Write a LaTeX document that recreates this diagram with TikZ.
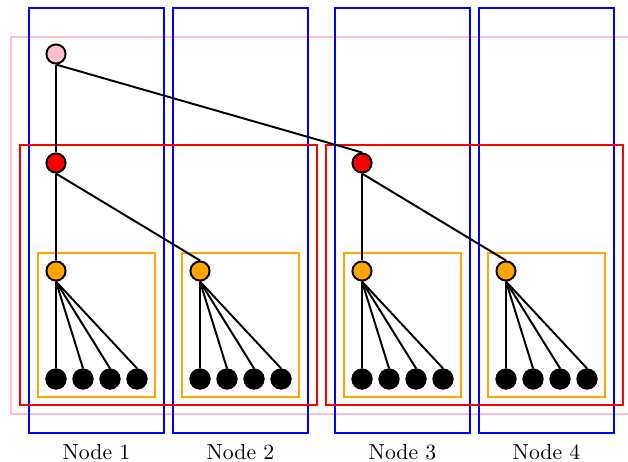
\documentclass[tikz,border=0pt]{standalone}
\begin{document}
\begin{tikzpicture}[x=0.46pt,y=-0.46pt,
  boxline/.style={line width=1pt},
  inner/.style={circle,draw=black,line width=0.9pt,minimum size=8.8pt,inner sep=0pt},
  leaf/.style={circle,fill=black,draw=black,minimum size=9.4pt,inner sep=0pt},
  edge/.style={draw=black,line width=0.9pt},
  lbl/.style={font=\normalsize}]
\definecolor{lorange}{RGB}{255,165,0}
\definecolor{lpink}{RGB}{255,192,203}
\useasboundingbox (0,0) rectangle (628,461);
\begin{scope}
\clip (0,0) rectangle (628,461);
\draw[boxline,lpink] (11,37) rectangle (640,414);
\end{scope}
% blue
\draw[boxline,blue] (29,8) rectangle (164,433);
\draw[boxline,blue] (173,8) rectangle (308,433);
\draw[boxline,blue] (335,8) rectangle (470,433);
\draw[boxline,blue] (479,8) rectangle (614,433);
% red
\draw[boxline,red] (20,145) rectangle (317,405);
\draw[boxline,red] (326,145) rectangle (623,405);
% orange
\foreach \x in {38,182,344,488}
  \draw[boxline,lorange] (\x,253) rectangle (\x+117,397);
% nodes
\node[inner,fill=lpink] (p) at (56,54) {};
\node[inner,fill=red] (r1) at (56,163) {};
\node[inner,fill=red] (r2) at (362,163) {};
\node[inner,fill=lorange] (o1) at (56,271) {};
\node[inner,fill=lorange] (o2) at (200,271) {};
\node[inner,fill=lorange] (o3) at (362,271) {};
\node[inner,fill=lorange] (o4) at (506,271) {};
\foreach \i/\x in {1/56,2/200,3/362,4/506}{
  \foreach \j in {0,1,2,3}{
    \node[leaf] (l\i\j) at (\x+27*\j,379) {};
    \draw[edge] (o\i.south) -- (l\i\j.north);
  }
}
\draw[edge] (p.south) -- (r1.north);
\draw[edge] (p.south) -- (r2.north);
\draw[edge] (r1.south) -- (o1.north);
\draw[edge] (r1.south) -- (o2.north);
\draw[edge] (r2.south) -- (o3.north);
\draw[edge] (r2.south) -- (o4.north);
% labels
\node[lbl] (n1) at (96.5,452) {Node 1};
\node[lbl] (n2) at (240.5,452) {Node 2};
\node[lbl] (n3) at (402.5,452) {Node 3};
\node[lbl] (n4) at (546.5,452) {Node 4};
\end{tikzpicture}
\end{document}
